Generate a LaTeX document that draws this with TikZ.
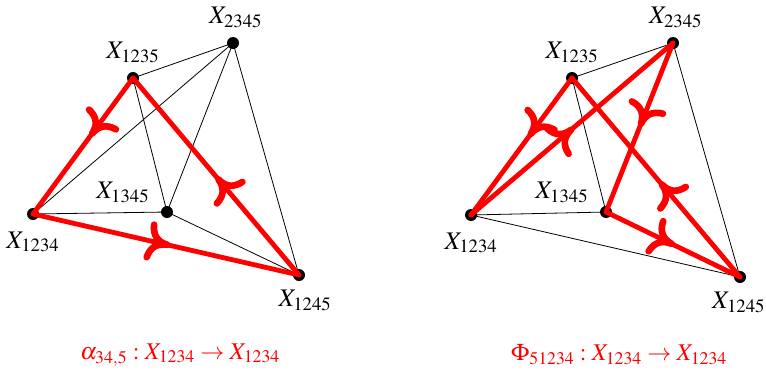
\documentclass[tikz,border=0pt]{standalone}
\usepackage{mathptmx}
\usetikzlibrary{decorations.markings,positioning}

\tikzset{
	vtx/.style = {circle, fill=black, inner sep=0pt, minimum size=9pt},
	thin edge/.style = {line width=0.6pt},
	red edge/.style = {line width=3.6pt, red, line cap=round,
		postaction={decorate, decoration={markings,
			mark=at position #1 with {\draw [line width=5pt, line cap=round, line join=round]
				(-12pt,12.5pt) .. controls (-11pt,4pt) and (-6pt,0.5pt) .. (1pt,0pt)
				.. controls (-6pt,-0.5pt) and (-11pt,-4pt) .. (-12pt,-12.5pt);}}}},
	red edge/.default = 0.5,
	lbl/.style = {inner sep=1pt, font=\fontsize{19}{22}\selectfont},
	caption text/.style = {inner sep=1pt, red, font=\fontsize{18}{21}\selectfont},
}

\begin{document}
\begin{tikzpicture}[x=0.75pt, y=-0.75pt]
		\useasboundingbox (0,0) rectangle (766,379);
		% left tetrahedron
		\node [vtx] (A2345) at (233,43) {};
		\node [vtx] (A1235) at (133,78) {};
		\node [vtx] (A1234) at (33,214) {};
		\node [vtx] (A1345) at (167,212) {};
		\node [vtx] (A1245) at (299,275) {};
		\draw [thin edge] (A1235.center) -- (A2345.center);
		\draw [thin edge] (A1234.center) -- (A2345.center);
		\draw [thin edge] (A1345.center) -- (A2345.center);
		\draw [thin edge] (A1245.center) -- (A2345.center);
		\draw [thin edge] (A1235.center) -- (A1345.center);
		\draw [thin edge] (A1234.center) -- (A1345.center);
		\draw [thin edge] (A1345.center) -- (A1245.center);
		\draw [red edge=0.4] (A1235.center) -- (A1234.center);
		\draw [red edge=0.5] (A1234.center) -- (A1245.center);
		\draw [red edge=0.48] (A1245.center) -- (A1235.center);
		\node [lbl, above=10pt, xshift=2pt] (tA2345) at (A2345) {$X_{2345}$};
		\node [lbl, above=10pt] (tA1235) at (A1235) {$X_{1235}$};
		\node [lbl, above left=6pt and 12pt] (tA1345) at (A1345) {$X_{1345}$};
		\node [lbl, below=12pt] (tA1234) at (A1234) {$X_{1234}$};
		\node [lbl, below=10pt, xshift=4.5pt] (tA1245) at (A1245) {$X_{1245}$};
		\node [caption text] (capA) at (180,355) {$\alpha_{34,5} : X_{1234} \to X_{1234}$};
		% right tetrahedron
		\node [vtx] (B2345) at (673,43) {};
		\node [vtx] (B1235) at (572,78) {};
		\node [vtx] (B1234) at (471,215) {};
		\node [vtx] (B1345) at (606,212) {};
		\node [vtx] (B1245) at (740,277) {};
		\draw [thin edge] (B1235.center) -- (B2345.center);
		\draw [thin edge] (B1235.center) -- (B1345.center);
		\draw [thin edge] (B1234.center) -- (B1345.center);
		\draw [thin edge] (B1234.center) -- (B1245.center);
		\draw [thin edge] (B2345.center) -- (B1245.center);
		\draw [red edge=0.4] (B1235.center) -- (B1234.center);
		\draw [red edge=0.49] (B1234.center) -- (B2345.center);
		\draw [red edge=0.47] (B2345.center) -- (B1345.center);
		\draw [red edge=0.48] (B1345.center) -- (B1245.center);
		\draw [red edge=0.46] (B1245.center) -- (B1235.center);
		\node [lbl, above=10pt, xshift=2pt] (tB2345) at (B2345) {$X_{2345}$};
		\node [lbl, above=10pt] (tB1235) at (B1235) {$X_{1235}$};
		\node [lbl, above left=6pt and 12pt] (tB1345) at (B1345) {$X_{1345}$};
		\node [lbl, below=12pt] (tB1234) at (B1234) {$X_{1234}$};
		\node [lbl, below=10pt, xshift=-1pt] (tB1245) at (B1245) {$X_{1245}$};
		\node [caption text] (capB) at (619,355) {$\Phi_{51234} : X_{1234} \to X_{1234}$};
	\end{tikzpicture}
\end{document}
